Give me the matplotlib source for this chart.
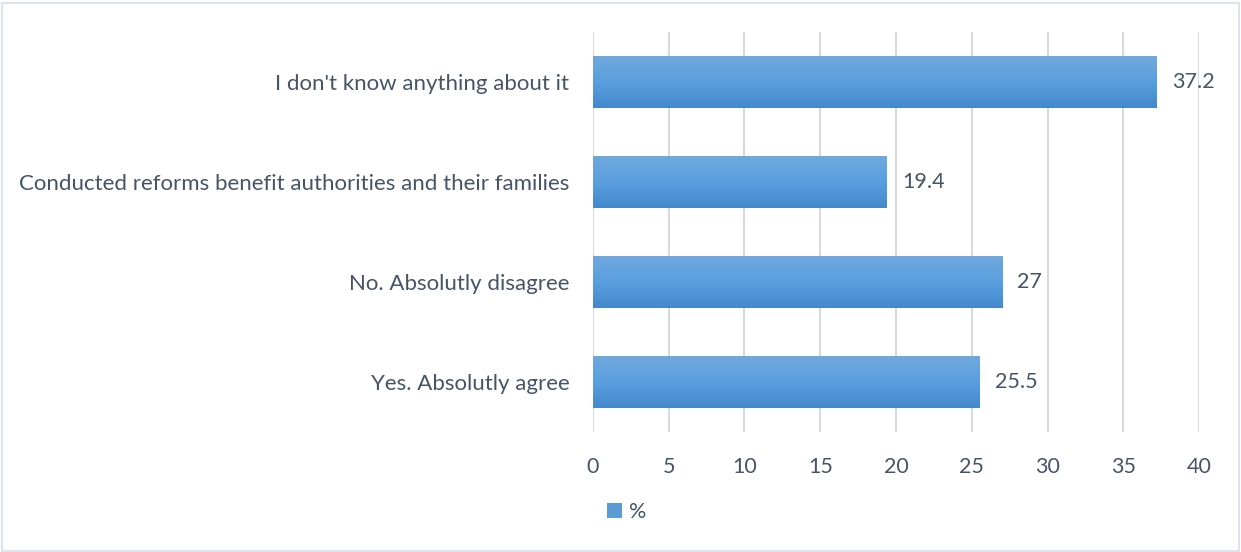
import numpy as np
import matplotlib.pyplot as plt
from matplotlib.patches import Rectangle, Patch
from matplotlib.colors import LinearSegmentedColormap

categories = ["Yes. Absolutly agree", "No. Absolutly disagree",
              "Conducted reforms benefit authorities and their families",
              "I don't know anything about it"]
values = [25.5, 27, 19.4, 37.2]
labels = ["25.5", "27", "19.4", "37.2"]
xticks = [0, 5, 10, 15, 20, 25, 30, 35, 40]

text_color = "#475467"
plt.rcParams['font.family'] = ['Lato', 'DejaVu Sans']

fig = plt.figure(figsize=(12.41, 5.52), dpi=100)
fig.patches.append(Rectangle((0.002, 0.002), 0.996, 0.992, transform=fig.transFigure,
                             fill=False, edgecolor="#dde3ea", linewidth=1.5))
ax = fig.add_axes([0.4778, 0.2174, 0.4884, 0.7246])

y = np.arange(len(categories))
bars = ax.barh(y, values, height=0.52, color="#5b9bd5", zorder=2)

# vertical gradient inside each bar
grad = np.linspace(0, 1, 256).reshape(-1, 1)
cmap = LinearSegmentedColormap.from_list("bar", ["#4288cb", "#5a9fdf", "#70a8dd"])
for b in bars:
    x0, y0, w, h = b.get_x(), b.get_y(), b.get_width(), b.get_height()
    im = ax.imshow(grad, extent=(x0, x0 + w, y0, y0 + h), origin='lower', cmap=cmap,
                   aspect='auto', zorder=3)
    im.set_clip_path(b)

for yi, v, lab in zip(y, values, labels):
    ax.annotate(lab, (v, yi), xytext=(11, 0), textcoords='offset points',
                va='center', ha='left', fontsize=15.5, color=text_color)

ax.set_xlim(0, 40)
ax.set_ylim(-0.5, len(categories) - 0.5)
ax.set_xticks(xticks)
ax.set_xticklabels([str(t) for t in xticks])
ax.set_yticks(y)
ax.set_yticklabels(categories)
ax.tick_params(length=0, labelsize=15.5, colors=text_color)
ax.tick_params(axis='y', labelsize=16, pad=17)
ax.tick_params(axis='x', pad=18)
ax.grid(axis='x', color="#d9d9d9", linewidth=1.5, zorder=0)
for s in ax.spines.values():
    s.set_visible(False)

fig.legend(handles=[Patch(facecolor="#5b9bd5", label="%")], loc='lower center',
           bbox_to_anchor=(0.505, 0.02), frameon=False, fontsize=15.5,
           handlelength=0.7, handleheight=0.7, handletextpad=0.3,
           labelcolor=text_color)

fig.savefig("out.png", dpi=100)
